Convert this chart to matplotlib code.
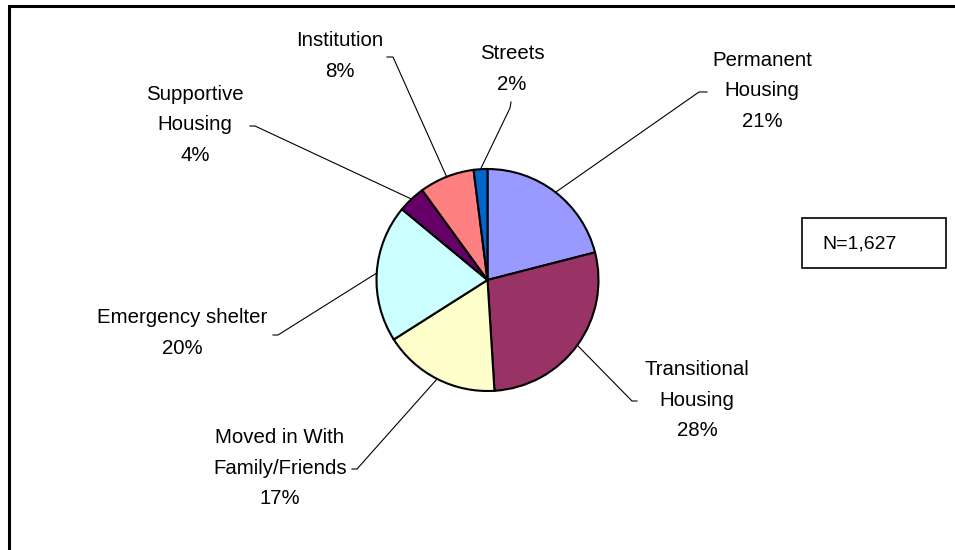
import numpy as np
import matplotlib
matplotlib.use("Agg")
import matplotlib.pyplot as plt
from matplotlib.patches import Rectangle

# ---- data ----
categories = ["Permanent\nHousing", "Transitional\nHousing", "Moved in With\nFamily/Friends",
              "Emergency shelter", "Supportive\nHousing", "Institution", "Streets"]
percents = [21, 28, 17, 20, 4, 8, 2]
colors = ["#9999FF", "#993366", "#FFFFCC", "#CCFFFF", "#660066", "#FF8080", "#0066CC"]
n_label = "N=1,627"

# ---- layout (pixel coordinates, y measured from top) ----
W, H = 955, 550
center_px = (487.5, 280)
radius_px = 111
# label centre, elbow point, end point of leader
label_pos = [(762, 91), (697, 400), (280, 468), (182, 333), (195, 125), (340, 56), (512, 69)]
elbows = [(699, 92), (632, 401), (357, 469), (278, 335), (255, 126), (393, 57), (510, 108)]
ends = [(707, 92), (637, 401), (352, 469), (273, 335), (250, 126), (387, 57), (511, 102)]

plt.rcParams['font.family'] = ['Liberation Sans', 'DejaVu Sans']

fig = plt.figure(figsize=(W / 100, H / 100), dpi=100)
ax = fig.add_axes([0, 0, 1, 1])
ax.set_xlim(0, W)
ax.set_ylim(0, H)
ax.set_aspect('equal')
ax.axis('off')


def fy(y):
    return H - y


cx, cy = center_px[0], fy(center_px[1])
wedges, _ = ax.pie(percents, colors=colors, startangle=90, counterclock=False,
                   center=(cx, cy), radius=radius_px, frame=True,
                   wedgeprops=dict(edgecolor='black', linewidth=1.5))
ax.set_xlim(0, W)
ax.set_ylim(0, H)
ax.axis('off')

for w, cat, p, (lx, ly), (ex, ey), (tx, ty) in zip(wedges, categories, percents,
                                                    label_pos, elbows, ends):
    mid = np.deg2rad((w.theta1 + w.theta2) / 2)
    ax_x = cx + radius_px * np.cos(mid)
    ax_y = cy + radius_px * np.sin(mid)
    ax.plot([ax_x, ex, tx], [ax_y, fy(ey), fy(ty)], color='black', lw=0.8, zorder=1)
    ax.text(lx, fy(ly), f"{cat}\n{p}%", ha='center', va='center', fontsize=14.7,
            linespacing=1.75, color='black')

# N box
ax.add_patch(Rectangle((802, fy(268)), 144, 50, facecolor='white', edgecolor='black', lw=1.2))
ax.text(860, fy(244), n_label, ha='center', va='center', fontsize=14)

# outer chart border
ax.add_patch(Rectangle((9, fy(600)), 1000, 594, facecolor='none', edgecolor='black',
                       lw=2.2, clip_on=False))

fig.savefig("out.png", dpi=100)
